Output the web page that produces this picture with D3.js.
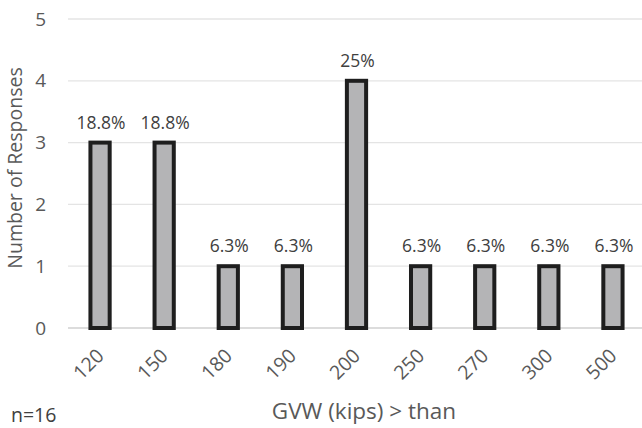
<!DOCTYPE html>
<html>
<head>
<meta charset="utf-8">
<script src="https://cdn.jsdelivr.net/npm/d3@7"></script>
<style>
  html, body { margin: 0; padding: 0; background: #fff; }
  svg { display: block; font-family: "Open Sans", "Noto Sans", sans-serif; }
</style>
</head>
<body>
<svg id="chart" width="642" height="428"></svg>
<script>
// GVW thresholds and number of responses for each
const categories = ["120", "150", "180", "190", "200", "250", "270", "300", "500"];
const responses = [3, 3, 1, 1, 4, 1, 1, 1, 1];
const percentLabels = ["18.8%", "18.8%", "6.3%", "6.3%", "25%", "6.3%", "6.3%", "6.3%", "6.3%"];
const yTicks = [0, 1, 2, 3, 4, 5];

const svg = d3.select("#chart");
const textColor = "#595959";
const fontFamily = "'Open Sans', sans-serif";

const x = d3.scaleBand().domain(categories).range([68, 645]).paddingInner(0.70).paddingOuter(0.35);
const y = d3.scaleLinear().domain([0, 5]).range([328, 19]);

// horizontal gridlines
svg.append("g")
  .selectAll("line")
  .data(yTicks)
  .join("line")
  .attr("x1", 68).attr("x2", 642)
  .attr("y1", d => y(d)).attr("y2", d => y(d))
  .attr("stroke", d => d === 0 ? "#d0d0d0" : "#e4e4e4")
  .attr("stroke-width", 1.3);

// y axis tick labels
const yAxis = d3.axisLeft(y).tickValues(yTicks).tickFormat(d3.format("d")).tickSize(0).tickPadding(0);
svg.append("g")
  .attr("transform", "translate(46,0)")
  .call(yAxis)
  .call(g => g.select(".domain").remove())
  .call(g => g.selectAll("text")
    .attr("fill", textColor)
    .attr("font-size", 19)
    .attr("font-family", fontFamily));

// bars
svg.append("g")
  .selectAll("rect")
  .data(categories)
  .join("rect")
  .attr("x", d => x(d))
  .attr("width", x.bandwidth())
  .attr("y", (d, i) => y(responses[i]))
  .attr("height", (d, i) => y(0) - y(responses[i]))
  .attr("fill", "#b4b4b6")
  .attr("stroke", "#1e1e1e")
  .attr("stroke-width", 4);

// percentage labels above bars
svg.append("g")
  .selectAll("text")
  .data(categories)
  .join("text")
  .attr("x", d => x(d) + x.bandwidth() / 2 + 1)
  .attr("y", (d, i) => y(responses[i]) - 14)
  .attr("text-anchor", "middle")
  .attr("fill", "#404040")
  .attr("font-size", 17.5)
  .text((d, i) => percentLabels[i]);

// x axis labels, rotated
const xAxis = d3.axisBottom(x).tickSize(0).tickPadding(0);
svg.append("g")
  .attr("transform", "translate(0,328)")
  .call(xAxis)
  .call(g => g.select(".domain").remove())
  .call(g => g.selectAll("text")
    .attr("fill", textColor)
    .attr("font-size", 19.5)
    .attr("font-family", fontFamily)
    .attr("text-anchor", "end")
    .attr("dy", 0)
    .attr("transform", "translate(5,29) rotate(-45)"));

// axis titles
svg.append("text")
  .attr("x", 364).attr("y", 419)
  .attr("text-anchor", "middle")
  .attr("fill", textColor)
  .attr("font-size", 22.5)
  .text("GVW (kips) > than");

svg.append("text")
  .attr("transform", "translate(22,168) rotate(-90)")
  .attr("text-anchor", "middle")
  .attr("fill", textColor)
  .attr("font-size", 19.5)
  .text("Number of Responses");

svg.append("text")
  .attr("x", 11).attr("y", 422)
  .attr("fill", "#404040")
  .attr("font-size", 19.5)
  .text("n=16");
</script>
</body>
</html>
